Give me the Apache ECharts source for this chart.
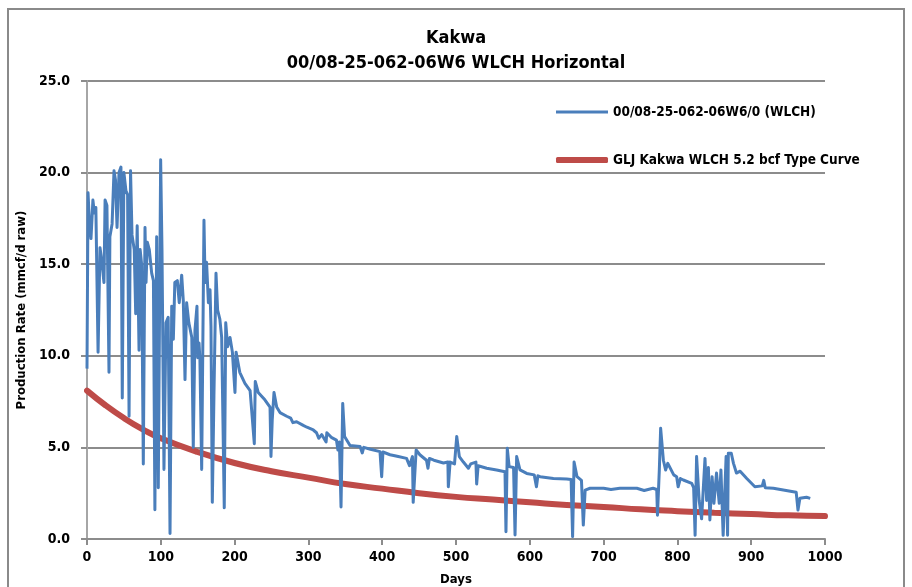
<!DOCTYPE html>
<html>
<head>
<meta charset="utf-8">
<script src="https://cdn.jsdelivr.net/npm/echarts@6/dist/echarts.min.js"></script>
<style>
  html, body { margin: 0; padding: 0; background: #ffffff; }
  #chart { width: 912px; height: 587px; }
</style>
</head>
<body>
<div id="chart"></div>
<script>
// Well production history (days on production, mmcf/d raw)
var prodDays = [
  0, 1.4, 3, 5.4, 8, 10, 12, 15, 17.6, 20, 23, 24.5, 27, 29.8, 31, 34, 36.6, 38.6, 40.7, 43.4,
  46, 47.8, 50, 52.8, 55, 57, 59, 61, 64, 66, 68, 70.5, 72, 74, 76.3, 78.6, 80, 81.7, 84.4, 87.7,
  90, 92, 94.4, 96.6, 99.8, 101.6, 104.3, 107, 110, 112.5, 114.8, 117, 119, 122.4, 125, 128.3, 130.5, 132.8, 135, 138,
  142, 144, 146.3, 149, 150, 151.8, 153, 155.4, 158.5, 160, 162, 164.5, 166.7, 168, 169.8, 172, 174.8, 177, 180, 182.5,
  186, 188, 190.6, 193.8, 197, 200.5, 202, 207, 214, 221, 226.7, 228, 232, 241, 248, 249.3, 251, 253.4, 257, 261.5,
  270.6, 276, 279, 284, 293, 298, 306.6, 311, 314, 318, 324, 325, 331, 338, 340, 342, 344.2, 346.5, 349, 356.4,
  370, 373, 375, 384, 397, 399.3, 401, 410.6, 421.8, 433, 437, 441, 442, 446, 451, 460, 462, 464, 470, 483,
  489, 489.6, 492, 498, 501, 504.5, 510, 516.8, 520, 527, 528, 530, 541.6, 555, 566.4, 567.7, 569.5, 572, 578, 580,
  582.2, 586.7, 595.8, 606, 609, 611, 614, 632, 650, 656, 658, 660, 664, 670, 672.5, 675, 681.6, 700, 710, 722,
  745, 755, 767, 772, 773, 775.5, 777.3, 781, 784, 787, 795, 799, 801, 804, 808, 819.4, 822, 824, 826, 829.5,
  832.8, 837.4, 839.6, 842, 844, 847, 849.5, 853, 856.7, 859, 862, 864, 866, 868, 869, 873, 876, 880, 885, 894,
  905, 915, 917, 919, 930, 943.5, 957, 961, 963.4, 966, 975, 980
];
var prodRate = [
  9.3, 18.9, 17.5, 16.4, 18.5, 17.8, 18.1, 10.2, 15.9, 15.2, 14.0, 18.5, 18.2, 9.1, 16.5, 17.2, 20.1, 19.6, 17.0, 20.0,
  20.3, 7.7, 20.0, 19.0, 18.8, 6.7, 20.1, 16.6, 15.8, 12.3, 17.1, 10.3, 15.8, 15.0, 4.1, 17.0, 14.0, 16.2, 15.8, 14.5,
  14.1, 1.6, 16.5, 2.8, 20.7, 15.8, 3.8, 11.8, 12.1, 0.3, 12.7, 10.9, 14.0, 14.1, 12.9, 14.4, 13.0, 8.7, 12.9, 11.8,
  11.0, 5.0, 11.4, 12.7, 9.9, 10.7, 9.8, 3.8, 17.4, 14.0, 15.1, 12.9, 13.6, 11.6, 2.0, 7.8, 14.5, 12.5, 12.0, 11.0,
  1.7, 11.8, 10.5, 11.0, 10.2, 8.0, 10.2, 9.1, 8.5, 8.1, 5.2, 8.6, 8.0, 7.6, 7.2, 4.5, 6.5, 8.0, 7.2, 6.9,
  6.7, 6.6, 6.35, 6.4, 6.2, 6.1, 5.95, 5.8, 5.5, 5.7, 5.3, 5.8, 5.55, 5.4, 4.86, 5.3, 1.75, 7.4, 5.6, 5.1,
  5.05, 4.7, 5.0, 4.9, 4.77, 3.4, 4.75, 4.6, 4.5, 4.4, 4.0, 4.5, 2.0, 4.86, 4.6, 4.3, 3.86, 4.4, 4.3, 4.15,
  4.2, 2.85, 4.2, 4.1, 5.6, 4.5, 4.2, 3.86, 4.1, 4.2, 3.0, 4.0, 3.86, 3.77, 3.67, 0.4, 4.95, 3.95, 3.9, 0.22,
  4.5, 3.77, 3.58, 3.5, 2.85, 3.45, 3.4, 3.3, 3.28, 3.25, 0.13, 4.2, 3.4, 3.2, 0.76, 2.67, 2.77, 2.77, 2.7, 2.77,
  2.77, 2.65, 2.77, 2.7, 1.3, 3.77, 6.04, 4.3, 3.77, 4.13, 3.5, 3.4, 2.85, 3.3, 3.22, 3.04, 2.8, 0.2, 4.5, 2.1,
  1.1, 4.4, 2.1, 3.9, 1.04, 3.4, 1.95, 3.6, 1.95, 3.77, 0.2, 0.3, 4.5, 0.2, 4.68, 4.68, 4.13, 3.6, 3.7, 3.3,
  2.85, 2.9, 3.2, 2.8, 2.77, 2.67, 2.58, 2.55, 1.58, 2.22, 2.28, 2.22
];

// Type curve (days, mmcf/d)
var typeDays = [0, 25, 50, 75, 100, 150, 200, 250, 300, 350, 400, 450, 500, 550, 600, 650, 700, 750, 800, 850, 900, 950, 1000];
var typeRate = [8.1, 7.3, 6.6, 6.0, 5.5, 4.75, 4.15, 3.7, 3.35, 3.0, 2.75, 2.5, 2.3, 2.15, 2.0, 1.85, 1.75, 1.62, 1.52, 1.43, 1.36, 1.29, 1.25];

var xTicks = { min: 0, max: 1000, step: 100 };
var yTicks = { min: 0, max: 25, step: 5 };

var titleText = 'Kakwa\n00/08-25-062-06W6 WLCH Horizontal';
var prodName = '00/08-25-062-06W6/0 (WLCH)';
var typeName = 'GLJ Kakwa WLCH 5.2 bcf Type Curve';

function pairs(xs, ys) {
  var out = [];
  for (var i = 0; i < xs.length; i++) out.push([xs[i], ys[i]]);
  return out;
}

var FONT = '"Liberation Sans Narrow", "DejaVu Sans Condensed", sans-serif';
var BLUE = '#4a7ebb';
var RED = '#be4b48';
var GRID = '#8c8c8c';

var chart = echarts.init(document.getElementById('chart'), null, { renderer: 'canvas' });

chart.setOption({
  backgroundColor: '#ffffff',
  animation: false,
  textStyle: { fontFamily: FONT },
  title: {
    text: titleText,
    left: 'center',
    top: 21,
    textStyle: { fontFamily: FONT, fontWeight: 'bold', fontSize: 18, lineHeight: 25, color: '#000' }
  },
  graphic: [{
    type: 'rect',
    shape: { x: 8, y: 9, width: 896, height: 600 },
    style: { fill: null, stroke: '#8a8a8a', lineWidth: 2 },
    silent: true
  }],
  legend: [{
    data: [prodName],
    left: 551,
    top: 100,
    itemWidth: 52,
    itemHeight: 3,
    icon: 'rect',
    textStyle: { fontFamily: FONT, fontWeight: 'bold', fontSize: 13.5, color: '#000' }
  }, {
    data: [typeName],
    left: 551,
    top: 148,
    itemWidth: 52,
    itemHeight: 6,
    icon: 'roundRect',
    textStyle: { fontFamily: FONT, fontWeight: 'bold', fontSize: 13.5, color: '#000' }
  }],
  grid: { left: 87, top: 81, width: 738, height: 458, containLabel: false, outerBoundsMode: 'none' },
  xAxis: {
    type: 'value',
    min: xTicks.min,
    max: xTicks.max,
    interval: xTicks.step,
    name: 'Days',
    nameLocation: 'middle',
    nameGap: 34,
    nameTextStyle: { fontFamily: FONT, fontWeight: 'bold', fontSize: 13, color: '#000' },
    axisLine: { lineStyle: { color: GRID, width: 2 } },
    axisTick: { show: true, length: 6, lineStyle: { color: GRID, width: 2 } },
    axisLabel: {
      fontFamily: FONT, fontWeight: 'bold', fontSize: 14, color: '#000', margin: 11,
      formatter: function (v) { return String(v); }
    },
    splitLine: { show: false }
  },
  yAxis: {
    type: 'value',
    min: yTicks.min,
    max: yTicks.max,
    interval: yTicks.step,
    name: 'Production Rate (mmcf/d raw)',
    nameLocation: 'middle',
    nameGap: 56,
    nameTextStyle: { fontFamily: FONT, fontWeight: 'bold', fontSize: 13, color: '#000' },
    axisLine: { show: true, lineStyle: { color: '#a6a6a6', width: 2 } },
    axisTick: { show: true, length: 6, lineStyle: { color: GRID, width: 2 } },
    axisLabel: {
      fontFamily: FONT, fontWeight: 'bold', fontSize: 14, color: '#000', margin: 17,
      formatter: function (v) { return v.toFixed(1); }
    },
    splitLine: { show: true, lineStyle: { color: GRID, width: 2 } }
  },
  series: [{
    name: prodName,
    type: 'line',
    data: pairs(prodDays, prodRate),
    showSymbol: false,
    symbol: 'none',
    lineStyle: { color: BLUE, width: 3, join: 'round' },
    itemStyle: { color: BLUE },
    z: 3
  }, {
    name: typeName,
    type: 'line',
    data: pairs(typeDays, typeRate),
    smooth: true,
    showSymbol: false,
    symbol: 'none',
    lineStyle: { color: RED, width: 6, cap: 'round' },
    itemStyle: { color: RED },
    z: 2
  }]
});
</script>
</body>
</html>
